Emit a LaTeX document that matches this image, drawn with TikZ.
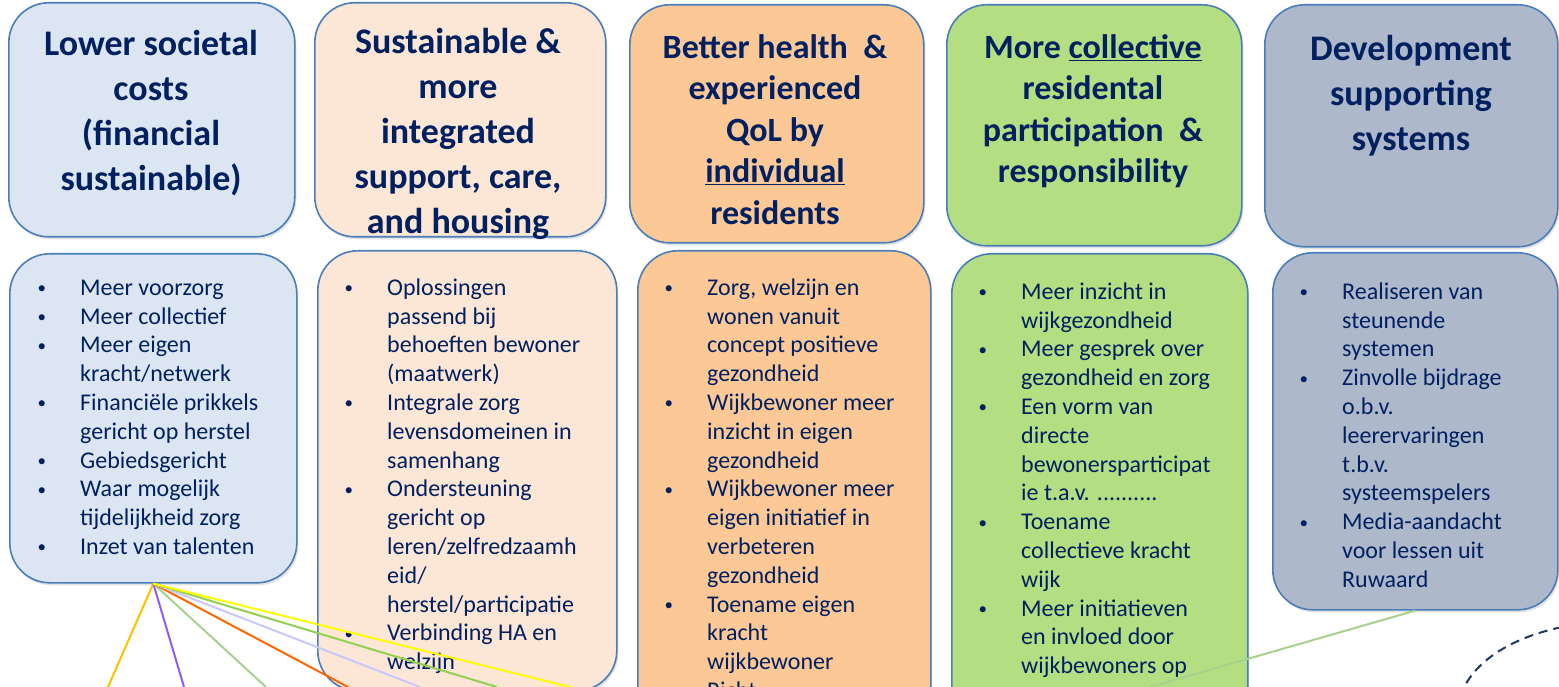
\documentclass[tikz,border=0pt]{standalone}
\usepackage{fontspec}
\setmainfont{Carlito}
\usetikzlibrary{shadows}
\definecolor{navy}{HTML}{002060}
\definecolor{bord}{HTML}{4A7EBB}
\definecolor{fa}{HTML}{DCE6F2}
\definecolor{fb}{HTML}{FCE6D6}
\definecolor{fc}{HTML}{FCC896}
\definecolor{fd}{HTML}{B3DE81}
\definecolor{fe}{HTML}{ADB9CA}
\definecolor{lorange}{HTML}{FFC000}
\definecolor{lpurple}{HTML}{8F5CF7}
\definecolor{lsage}{HTML}{A9D18E}
\definecolor{lred}{HTML}{FF6600}
\definecolor{llav}{HTML}{C8C8FF}
\definecolor{lgreen}{HTML}{92D050}
\definecolor{lyellow}{HTML}{FFFF00}
\definecolor{arcnavy}{HTML}{1F3864}
\newcommand\bul{\llap{{\fontsize{17}{17}\selectfont\raisebox{1.5pt}{\textbullet}}\hspace{34pt}}}
\tikzset{
  box/.style={draw=bord, line width=1.6pt, rounded corners=40pt, inner sep=0pt, anchor=north west,
    drop shadow={opacity=0.22, shadow xshift=1.5pt, shadow yshift=-2.5pt}},
  head/.style={text=navy, font=\bfseries\fontsize{36}{45}\selectfont, align=center, inner sep=0pt, anchor=north},
  headsm/.style={head, font=\bfseries\fontsize{34}{41.5}\selectfont},
  body/.style={text=navy, font=\fontsize{24}{28.8}\selectfont, align=left, inner sep=0pt, anchor=north west},
  link/.style={line width=2pt},
}
\begin{document}
\begin{tikzpicture}[x=1pt,y=-1pt]
\useasboundingbox (0,0) rectangle (1559,687);
\clip (0,0) rectangle (1559,687);
\fill[white] (0,0) rectangle (1559,687);
% header boxes
\node[box, fill=fa, minimum width=286pt, minimum height=234pt] (h1) at (8,2) {};
\node[box, fill=fb, minimum width=291pt, minimum height=234pt] (h2) at (314,2) {};
\node[box, fill=fc, minimum width=294pt, minimum height=238pt] (h3) at (629,4) {};
\node[box, fill=fd, minimum width=295pt, minimum height=241pt] (h4) at (946,4) {};
\node[box, fill=fe, minimum width=293pt, minimum height=242pt] (h5) at (1264,4) {};
% body boxes
\node[box, fill=fa, minimum width=287pt, minimum height=329pt] (b1) at (9,253) {};
\node[box, fill=fb, minimum width=299pt, minimum height=440pt] (b2) at (317,250) {};
\node[box, fill=fc, minimum width=293pt, minimum height=480pt] (b3) at (637,250) {};
\node[box, fill=fd, minimum width=296pt, minimum height=480pt] (b4) at (951,253) {};
\node[box, fill=fe, minimum width=285pt, minimum height=357pt] (b5) at (1272,252) {};
% header texts
\node[head] (t1) at (151,25) {\rule{0pt}{30pt}Lower societal\\ costs\\ (financial\\ sustainable)};
\node[head] (t2) at (458,23) {\rule{0pt}{30pt}Sustainable \&\\ more\\ integrated\\ support, care,\\ and housing};
\node[headsm] (t3) at (775,28) {\rule{0pt}{30pt}Better health~ \&\\ experienced\\ QoL by\\ \underline{individual}\\ residents};
\node[headsm] (t4) at (1093,28) {\rule{0pt}{30pt}More \underline{collective}\\ residental\\ participation~ \&\\ responsibility};
\node[head] (t5) at (1411,30) {\rule{0pt}{30pt}Development\\ supporting\\ systems};
% body texts
\node[body] (c1) at (80,275) {\rule{0pt}{20pt}\bul Meer voorzorg\\ \bul Meer collectief\\ \bul Meer eigen\\ kracht/netwerk\\ \bul Financiële prikkels\\ gericht op herstel\\ \bul Gebiedsgericht\\ \bul Waar mogelijk\\ tijdelijkheid zorg\\ \bul Inzet van talenten};
\node[body] (c2) at (387,275) {\rule{0pt}{20pt}\bul Oplossingen\\ passend bij\\ behoeften bewoner\\ (maatwerk)\\ \bul Integrale zorg\\ levensdomeinen in\\ samenhang\\ \bul Ondersteuning\\ gericht op\\ leren/zelfredzaamh\\ eid/\\ herstel/participatie\\ \bul Verbinding HA en\\ welzijn};
\node[body] (c3) at (707,275) {\rule{0pt}{20pt}\bul Zorg, welzijn en\\ wonen vanuit\\ concept positieve\\ gezondheid\\ \bul Wijkbewoner meer\\ inzicht in eigen\\ gezondheid\\ \bul Wijkbewoner meer\\ eigen initiatief in\\ verbeteren\\ gezondheid\\ \bul Toename eigen\\ kracht\\ wijkbewoner\\ \bul Richt};
\node[body] (c4) at (1021,279) {\rule{0pt}{20pt}\bul Meer inzicht in\\ wijkgezondheid\\ \bul Meer gesprek over\\ gezondheid en zorg\\ \bul Een vorm van\\ directe\\ bewonersparticipat\\ ie t.a.v. ..........\\ \bul Toename\\ collectieve kracht\\ wijk\\ \bul Meer initiatieven\\ en invloed door\\ wijkbewoners op};
\node[body] (c5) at (1342,279) {\rule{0pt}{20pt}\bul Realiseren van\\ steunende\\ systemen\\ \bul Zinvolle bijdrage\\ o.b.v.\\ leerervaringen\\ t.b.v.\\ systeemspelers\\ \bul Media-aandacht\\ voor lessen uit\\ Ruwaard};
% connector ends
\coordinate (e1) at (108,687);
\coordinate (e2) at (184,687);
\coordinate (e3) at (266,687);
\coordinate (e4) at (348,687);
\coordinate (e5) at (420,687);
\coordinate (e6) at (497,687);
\coordinate (e7) at (570,687);
\coordinate (e8) at (1150,687);
\draw[link, lorange] (b1.south) -- (e1);
\draw[link, lpurple] (b1.south) -- (e2);
\draw[link, lsage] (b1.south) -- (e3);
\draw[link, lred] (b1.south) -- (e4);
\draw[link, llav] (b1.south) -- (e5);
\draw[link, lgreen] (b1.south) -- (e6);
\draw[link, lyellow] (b1.south) -- (e7);
\draw[link, lsage] (b5.south) -- (e8);
% dashed arc
\draw[arcnavy, line width=2pt, dash pattern=on 9pt off 6pt] (1562,627) .. controls (1510,638) and (1474,662) .. (1462,692);
\end{tikzpicture}
\end{document}
